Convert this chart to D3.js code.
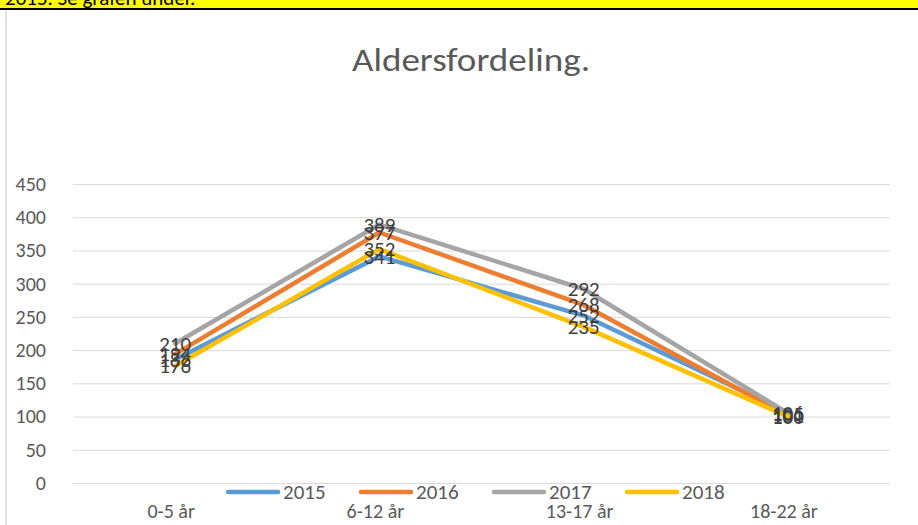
<!DOCTYPE html>
<html>
<head>
<meta charset="utf-8">
<script src="https://cdn.jsdelivr.net/npm/d3@7"></script>
<style>
  body { margin: 0; background: #fff; }
  svg text { font-family: Calibri, Carlito, "Open Sans", sans-serif; }
</style>
</head>
<body>
<div id="chart"></div>
<script>
// data
var categories = ["0-5 år", "6-12 år", "13-17 år", "18-22 år"];
var years = ["2015", "2016", "2017", "2018"];
var values2015 = [186, 341, 252, 106];
var values2016 = [194, 377, 268, 101];
var values2017 = [210, 389, 292, 105];
var values2018 = [176, 352, 235, 100];
var yTicks = [0, 50, 100, 150, 200, 250, 300, 350, 400, 450];
var colors = ["#5B9BD5", "#ED7D31", "#A5A5A5", "#FFC000"];

var series = [values2015, values2016, values2017, values2018].map(function(v, i) {
    return {name: years[i], color: colors[i], values: v};
});

var width = 918, height = 525;
var svg = d3.select("#chart").append("svg")
            .attr("width", width)
            .attr("height", height);

// yellow strip at the top (text cut off like in the screenshot)
svg.append("rect").attr("x", 0).attr("y", 0).attr("width", width).attr("height", 9).attr("fill", "#FFFF00");
svg.append("text").attr("x", 5).attr("y", 5)
   .style("font-size", "21px").attr("fill", "#000")
   .text("2015. Se grafen under.");
svg.append("rect").attr("x", 0).attr("y", 8).attr("width", width).attr("height", 2).attr("fill", "#000");
svg.append("line").attr("x1", 6).attr("x2", 6).attr("y1", 10).attr("y2", height)
   .attr("stroke", "#D9D9D9").attr("stroke-width", 1.5);

var x = d3.scaleBand().domain(categories).range([73, 890]);
var y = d3.scaleLinear().domain([0, 450]).range([483, 184]);

// title
svg.append("text").attr("x", 471).attr("y", 71)
   .attr("text-anchor", "middle")
   .attr("fill", "#595959")
   .style("font-size", "33px")
   .attr("textLength", 238)
   .attr("lengthAdjust", "spacingAndGlyphs")
   .text("Aldersfordeling.");

// gridlines
var grid = svg.append("g").attr("transform", "translate(73,0)")
   .call(d3.axisLeft(y).tickValues(yTicks).tickSize(-(890 - 73)).tickFormat(""));
grid.select(".domain").remove();
grid.selectAll("line").attr("stroke", "#D9D9D9").attr("stroke-width", 1);

// y tick labels
var yAxis = svg.append("g").attr("transform", "translate(73,0)")
   .call(d3.axisLeft(y).tickValues(yTicks).tickSize(0).tickPadding(27));
yAxis.select(".domain").remove();
yAxis.selectAll("text").attr("fill", "#595959").style("font-size", "20px");

// category labels
var xAxis = svg.append("g").attr("transform", "translate(-4,483)")
   .call(d3.axisBottom(x).tickSize(0).tickPadding(21));
xAxis.select(".domain").remove();
xAxis.selectAll("text").attr("fill", "#595959").style("font-size", "20px");

var line = d3.line()
   .x(function(d, i) { return x(categories[i]) + x.bandwidth() / 2; })
   .y(function(d) { return y(d); });

svg.selectAll(".series").data(series).enter().append("path")
   .attr("class", "series")
   .attr("d", function(d) { return line(d.values); })
   .attr("fill", "none")
   .attr("stroke", function(d) { return d.color; })
   .attr("stroke-width", 4.5)
   .attr("stroke-linecap", "round")
   .attr("stroke-linejoin", "round");

// data labels centred on the points
series.forEach(function(s) {
    svg.append("g").selectAll("text").data(s.values).enter().append("text")
       .attr("x", function(d, i) { return x(categories[i]) + x.bandwidth() / 2; })
       .attr("y", function(d) { return y(d); })
       .attr("dy", "0.35em")
       .attr("text-anchor", "middle")
       .attr("fill", "#404040")
       .style("font-size", "21px")
       .text(function(d) { return d; });
});

// legend
var legend = svg.append("g").attr("transform", "translate(226,492)");
var item = legend.selectAll("g").data(series).enter().append("g")
   .attr("transform", function(d, i) { return "translate(" + (i * 133) + ",0)"; });
item.append("line").attr("x1", 2).attr("x2", 52).attr("y1", 0).attr("y2", 0)
   .attr("stroke", function(d) { return d.color; })
   .attr("stroke-width", 4.5).attr("stroke-linecap", "round");
item.append("text").attr("x", 57).attr("y", 0).attr("dy", "0.35em")
   .attr("fill", "#595959").style("font-size", "21px")
   .text(function(d) { return d.name; });
</script>
</body>
</html>
